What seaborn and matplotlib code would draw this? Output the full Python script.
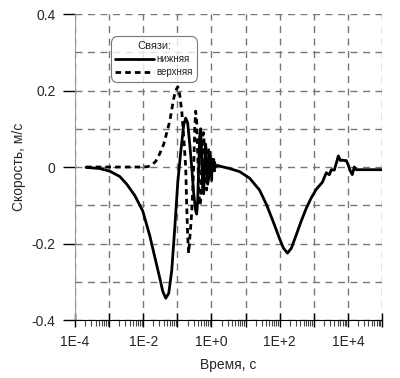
import numpy as np
import pandas as pd
import matplotlib
matplotlib.use("Agg")
import matplotlib.pyplot as plt
import matplotlib.ticker as mticker
import seaborn as sns

# нижняя связь (solid)
t_low = [2.1e-4, 5.4e-4, 1.05e-3, 2.07e-3, 3.3e-3, 5.7e-3, 9.7e-3, 0.0156, 0.0218,
         0.0305, 0.0374, 0.0458, 0.0561, 0.0686, 0.084, 0.103, 0.126, 0.154, 0.176,
         0.201, 0.231, 0.264, 0.302, 0.345, 0.369, 0.394, 0.423, 0.452, 0.483, 0.516,
         0.553, 0.591, 0.633, 0.676, 0.724, 0.774, 0.828, 0.886, 0.948, 1.01, 1.08,
         1.16, 1.24, 1.33, 1.52, 1.99, 3.4, 6.7, 13.1, 25.6, 41, 66, 99, 129, 169,
         221, 310, 434, 608, 851, 1190, 1780, 2330, 2860, 3270, 4000, 4580, 5240,
         6000, 6860, 7850, 8980, 10280, 11750, 13450, 15400, 17600, 1e5]
v_low = [-0.001, -0.004, -0.011, -0.025, -0.045, -0.075, -0.115, -0.18, -0.235,
         -0.29, -0.325, -0.343, -0.33, -0.27, -0.16, -0.04, 0.04, 0.11, 0.128,
         0.115, 0.06, 0.0, -0.07, -0.115, -0.123, -0.09, 0.0, 0.08, 0.1, 0.04,
         -0.06, -0.07, 0.0, 0.06, 0.02, -0.045, -0.03, 0.035, 0.02, -0.025, 0.02,
         -0.01, 0.012, 0.0, 0.004, 0.001, -0.004, -0.012, -0.029, -0.06, -0.098,
         -0.145, -0.187, -0.212, -0.225, -0.212, -0.176, -0.14, -0.107, -0.08,
         -0.058, -0.04, -0.015, -0.02, -0.007, -0.008, 0.01, 0.029, 0.017, 0.018,
         0.017, 0.017, 0.005, -0.01, -0.02, 0.0, -0.007, -0.007]

# верхняя связь (dashed)
t_up = [2.1e-4, 1e-3, 5e-3, 9.7e-3, 0.0137, 0.0178, 0.0233, 0.0305, 0.040, 0.049,
        0.060, 0.0686, 0.0785, 0.0898, 0.103, 0.117, 0.135, 0.154, 0.176, 0.188,
        0.201, 0.215, 0.264, 0.302, 0.323, 0.345, 0.369, 0.394, 0.423, 0.452,
        0.483, 0.516, 0.553, 0.591, 0.633, 0.676, 0.724, 0.774, 0.828, 0.886,
        0.948, 1.01, 1.08, 1.16, 1.24, 1.33]
v_up = [0.0, 0.0, 0.0, 0.0, 0.001, 0.005, 0.015, 0.035, 0.06, 0.09, 0.12, 0.15,
        0.18, 0.2, 0.21, 0.19, 0.146, 0.076, 0.0, -0.1, -0.18, -0.225, -0.12,
        0.0, 0.1, 0.146, 0.12, 0.04, -0.05, -0.1, -0.09, 0.0, 0.08, 0.09, 0.03,
        -0.05, -0.06, 0.0, 0.05, 0.04, -0.03, -0.035, 0.02, 0.02, -0.01, 0.0]

x_ticks = [1e-4, 1e-2, 1e0, 1e2, 1e4]
x_labels = ["1E-4", "1E-2", "1E+0", "1E+2", "1E+4"]

sns.set_style("white")
plt.rcParams['font.family'] = ['Liberation Sans', 'DejaVu Sans']

fig = plt.figure(figsize=(4, 3.78), dpi=100)
ax = fig.add_axes([0.1875, 0.1534, 0.7675, 0.8095])

low = pd.DataFrame({"t": t_low, "v": v_low})
up = pd.DataFrame({"t": t_up, "v": v_up})
sns.lineplot(data=low, x="t", y="v", ax=ax, color="black", lw=2,
             estimator=None, label="нижняя")
sns.lineplot(data=up, x="t", y="v", ax=ax, color="black", lw=2,
             estimator=None, label="верхняя")
ax.lines[0].set_solid_joinstyle("round")
ax.lines[1].set_linestyle((0, (2, 1.5)))

ax.set_xscale("log")
ax.set_xlim(1e-4, 1e5)
ax.set_ylim(-0.4, 0.4)

ax.xaxis.set_major_locator(mticker.LogLocator(base=10, numticks=20))
ax.xaxis.set_minor_locator(mticker.LogLocator(base=10, subs=np.arange(2, 10), numticks=20))
ax.xaxis.set_minor_formatter(mticker.NullFormatter())
ax.xaxis.set_major_formatter(mticker.FuncFormatter(
    lambda v, p: x_labels[x_ticks.index(v)] if v in x_ticks else ""))

ax.yaxis.set_major_locator(mticker.MultipleLocator(0.2))
ax.yaxis.set_minor_locator(mticker.MultipleLocator(0.1))
ax.yaxis.set_major_formatter(mticker.FuncFormatter(lambda v, p: "%g" % round(v, 2)))

ax.grid(True, which="major", axis="x", color="#777777", ls=(0, (5, 4)), lw=1)
ax.grid(True, which="both", axis="y", color="#777777", ls=(0, (5, 4)), lw=1)

ax.tick_params(axis="x", which="both", bottom=True)
ax.tick_params(axis="y", which="both", left=True)
ax.tick_params(axis="x", which="major", direction="inout", length=10, width=1,
               color="black", labelsize=10, pad=6)
ax.tick_params(axis="x", which="minor", direction="out", length=4, width=0.8,
               color="#444444")
ax.tick_params(axis="y", which="major", direction="out", length=9, width=1,
               color="black", labelsize=10, pad=5)
ax.tick_params(axis="y", which="minor", length=0)

for s in ["top", "right"]:
    ax.spines[s].set_visible(False)
ax.spines["left"].set_color("#999999")
ax.spines["bottom"].set_color("black")

ax.set_xlabel("Время, с", fontsize=10, labelpad=6)
ax.set_ylabel("Скорость, м/с", fontsize=10, labelpad=4)

leg = ax.legend(title="Связи:", loc="upper left", bbox_to_anchor=(0.10, 0.945),
                fontsize=7, title_fontsize=8, handlelength=4, handletextpad=0.2,
                fancybox=True, frameon=True, borderpad=0.5, labelspacing=0.35)
leg.get_frame().set_edgecolor("#555555")
leg.get_frame().set_linewidth(0.8)
leg.get_frame().set_boxstyle("round", pad=0, rounding_size=0.7)
leg.get_lines()[1].set_linestyle((0, (2, 1.5)))

fig.savefig("out.png", dpi=100)
